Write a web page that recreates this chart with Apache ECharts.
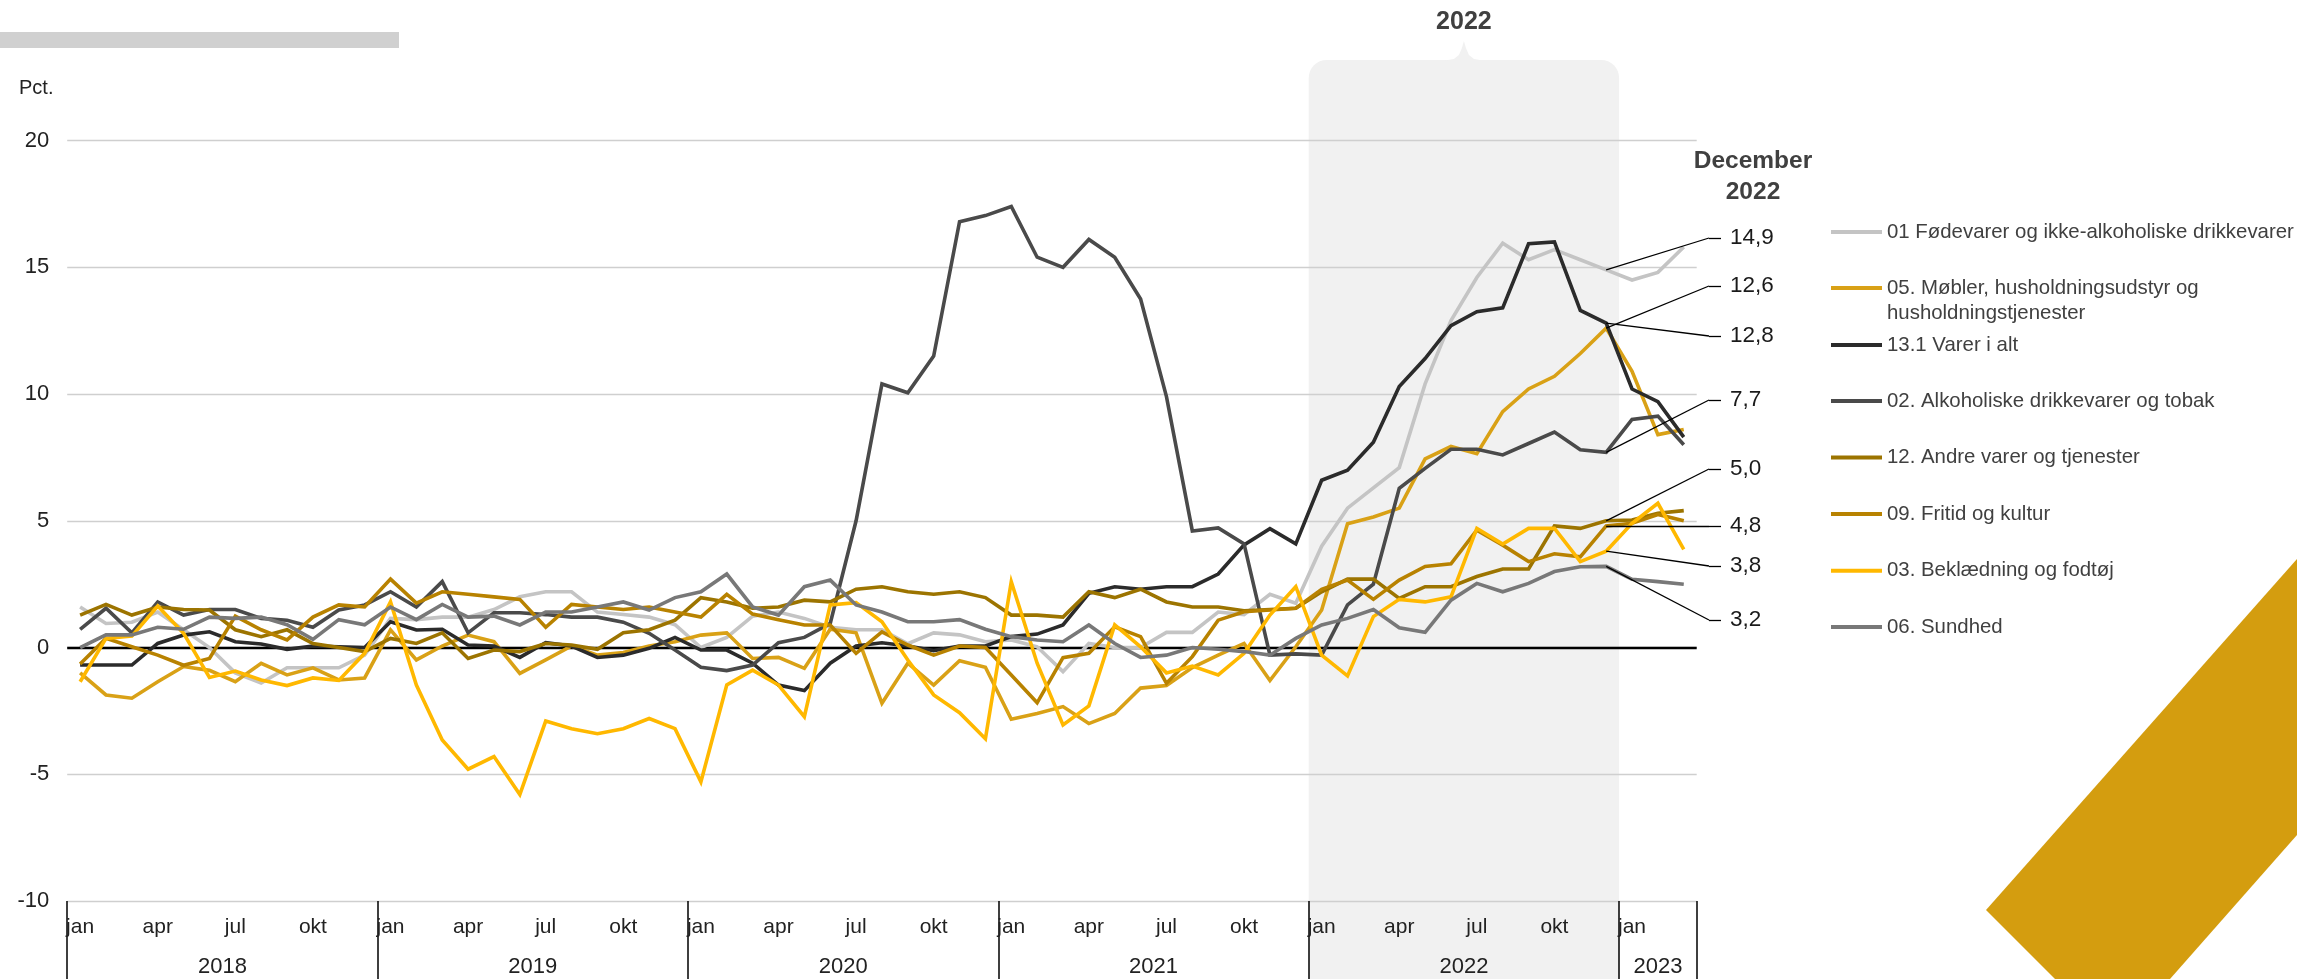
<!DOCTYPE html>
<html>
<head>
<meta charset="utf-8">
<script src="https://cdn.jsdelivr.net/npm/echarts@6/dist/echarts.min.js"></script>
<style>
  html, body { margin: 0; padding: 0; background: #ffffff; }
  #chart { width: 2297px; height: 979px; }
</style>
</head>
<body>
<div id="chart"></div>
<script>
// Årlig prisudvikling (pct.) for udvalgte forbrugsgrupper, jan 2018 - mar 2023
const monthNames = ['jan', 'feb', 'mar', 'apr', 'maj', 'jun', 'jul', 'aug', 'sep', 'okt', 'nov', 'dec'];
const years = ['2018', '2019', '2020', '2021', '2022', '2023'];
const monthsPerYear = [12, 12, 12, 12, 12, 3];
const yTicks = { min: -10, max: 20, step: 5 };

const seriesNames = [
  '01 Fødevarer og ikke-alkoholiske drikkevarer',
  '05. Møbler, husholdningsudstyr og husholdningstjenester',
  '13.1 Varer i alt',
  '02. Alkoholiske drikkevarer og tobak',
  '12. Andre varer og tjenester',
  '09. Fritid og kultur',
  '03. Beklædning og fodtøj',
  '06. Sundhed'
];

const foedevarer = [
  1.6, 0.95, 1.0, 1.4, 0.7, 0.0, -1.0, -1.4, -0.8, -0.8, -0.8, -0.3,
  1.15, 1.1, 1.2, 1.2, 1.5, 2.0, 2.2, 2.2, 1.4, 1.3, 1.2, 0.9,
  0.0, 0.4, 1.24, 1.4, 1.15, 0.8, 0.7, 0.7, 0.15, 0.58, 0.5, 0.23,
  0.3, 0.03, -0.95, 0.16, 0.0, 0.0, 0.6, 0.6, 1.4, 1.3, 2.1, 1.75,
  4.0, 5.5, 6.3, 7.1, 10.4, 12.9, 14.6, 15.95, 15.3, 15.7, 15.3, 14.9,
  14.5, 14.8, 15.8
];
const moebler = [
  -1.0, -1.87, -2.0, -1.35, -0.75, -0.9, -1.35, -0.62, -1.08, -0.8, -1.28, -1.2,
  0.7, -0.49, 0.06, 0.49, 0.23, -1.02, -0.49, 0.06, -0.3, -0.2, 0.06, 0.23,
  0.49, 0.58, -0.43, -0.39, -0.82, 0.72, 0.58, -2.2, -0.62, -1.48, -0.52, -0.78,
  -2.83, -2.6, -2.33, -3.0, -2.6, -1.6, -1.5, -0.79, -0.3, 0.16, -1.3, 0.03,
  1.48, 4.88, 5.15, 5.5, 7.44, 7.93, 7.65, 9.31, 10.2, 10.7, 11.6, 12.6,
  10.9, 8.4, 8.6
];
const varerIAlt = [
  -0.69, -0.69, -0.69, 0.16, 0.49, 0.62, 0.23, 0.14, -0.07, 0.06, 0.03, 0.0,
  1.02, 0.69, 0.72, 0.1, 0.06, -0.39, 0.19, 0.06, -0.39, -0.3, -0.03, 0.4,
  -0.1, -0.1, -0.62, -1.48, -1.7, -0.62, 0.06, 0.19, 0.06, -0.12, 0.06, 0.06,
  0.43, 0.53, 0.89, 2.14, 2.4, 2.3, 2.4, 2.4, 2.9, 4.05, 4.69, 4.09,
  6.6, 7.0, 8.1, 10.3, 11.4, 12.7, 13.25, 13.4, 15.93, 16.0, 13.3, 12.8,
  10.2, 9.7, 8.3
];
const alkohol = [
  0.72, 1.55, 0.58, 1.8, 1.28, 1.5, 1.5, 1.15, 1.08, 0.8, 1.48, 1.68,
  2.2, 1.6, 2.6, 0.58, 1.37, 1.37, 1.3, 1.2, 1.2, 1.0, 0.56, -0.1,
  -0.78, -0.91, -0.69, 0.19, 0.4, 0.95, 5.0, 10.4, 10.05, 11.5, 16.8, 17.04,
  17.4, 15.4, 15.0, 16.1, 15.4, 13.75, 9.9, 4.6, 4.72, 4.09, -0.3, -0.25,
  -0.3, 1.68, 2.5, 6.28, 7.07, 7.82, 7.82, 7.6, 8.05, 8.5, 7.8, 7.7,
  9.0, 9.13, 8.0
];
const andre = [
  1.28, 1.7, 1.28, 1.6, 1.5, 1.48, 0.7, 0.43, 0.7, 0.16, 0.0, -0.16,
  0.36, 0.16, 0.58, -0.43, -0.1, -0.16, 0.16, 0.1, -0.07, 0.58, 0.7, 1.08,
  1.97, 1.8, 1.55, 1.6, 1.87, 1.8, 2.3, 2.4, 2.2, 2.1, 2.2, 1.97,
  1.28, 1.28, 1.2, 2.2, 1.97, 2.3, 1.8, 1.6, 1.6, 1.45, 1.5, 1.55,
  2.2, 2.7, 2.7, 1.94, 2.4, 2.4, 2.8, 3.1, 3.1, 4.8, 4.7, 5.0,
  5.03, 5.3, 5.4
];
const fritid = [
  -0.65, 0.36, 0.03, -0.3, -0.7, -0.43, 1.24, 0.7, 0.3, 1.2, 1.68, 1.6,
  2.7, 1.75, 2.2, 2.1, 2.0, 1.9, 0.8, 1.7, 1.6, 1.5, 1.6, 1.4,
  1.2, 2.1, 1.32, 1.1, 0.89, 0.89, -0.23, 0.62, 0.1, -0.3, 0.06, 0.0,
  -1.08, -2.18, -0.4, -0.23, 0.82, 0.43, -1.41, -0.36, 1.08, 1.41, 1.48, 1.55,
  2.3, 2.66, 1.9, 2.66, 3.2, 3.3, 4.63, 4.04, 3.39, 3.7, 3.58, 4.8,
  4.9, 5.25, 5.0
];
const beklaedning = [
  -1.35, 0.36, 0.45, 1.64, 0.56, -1.18, -0.93, -1.28, -1.5, -1.2, -1.3, -0.23,
  1.8, -1.48, -3.65, -4.8, -4.3, -5.8, -2.9, -3.2, -3.4, -3.2, -2.8, -3.2,
  -5.3, -1.48, -0.89, -1.48, -2.73, 1.68, 1.77, 1.02, -0.49, -1.87, -2.57, -3.6,
  2.6, -0.62, -3.05, -2.3, 0.89, 0.03, -1.0, -0.73, -1.08, -0.23, 1.28, 2.4,
  -0.3, -1.12, 1.22, 1.9, 1.8, 2.0, 4.7, 4.08, 4.7, 4.7, 3.39, 3.8,
  4.9, 5.69, 3.87
];
const sundhed = [
  0.0, 0.5, 0.5, 0.8, 0.72, 1.2, 1.15, 1.2, 0.9, 0.32, 1.1, 0.9,
  1.6, 1.1, 1.7, 1.2, 1.24, 0.89, 1.4, 1.4, 1.6, 1.8, 1.48, 1.97,
  2.2, 2.9, 1.6, 1.28, 2.4, 2.66, 1.68, 1.4, 1.02, 1.02, 1.1, 0.72,
  0.43, 0.3, 0.23, 0.89, 0.16, -0.39, -0.3, 0.0, -0.07, -0.16, -0.3, 0.36,
  0.89, 1.15, 1.5, 0.78, 0.6, 1.87, 2.53, 2.2, 2.53, 3.0, 3.19, 3.2,
  2.69, 2.6, 2.5
];

const seriesValues = [foedevarer, moebler, varerIAlt, alkohol, andre, fritid, beklaedning, sundhed];
const seriesColors = ['#c4c4c4', '#d9a116', '#2b2b2b', '#4a4a4a', '#9c7400', '#b88200', '#ffb800', '#787878'];

// the month whose values are called out on the right
const calloutMonth = '2022-12';
const shadedYear = '2022';

const FONT = "'Liberation Sans', Arial, Helvetica, sans-serif";

// category keys "YYYY-MM"
const categories = [];
years.forEach((y, yi) => {
  for (let m = 0; m < monthsPerYear[yi]; m++) {
    categories.push(y + '-' + String(m + 1).padStart(2, '0'));
  }
});
const nMonths = categories.length;

// year boundaries and label centres on a month-count scale
const yearBounds = [0];
const yearCenters = [];
monthsPerYear.forEach((n, i) => {
  yearCenters.push(yearBounds[i] + n / 2);
  yearBounds.push(yearBounds[i] + n);
});

const fmt = v => v.toFixed(1).replace('.', ',');

// callout layout (pixel rows for the value labels on the right)
const calloutRows = [238, 286, 336, 400, 469, 526, 566, 620];
const calloutKinkX = 1709;
const calloutEndX = 1721;

// legend rows
const legendRows = [232, 288, 345, 401, 457.5, 514, 570.7, 627];

const chartDom = document.getElementById('chart');
const chart = echarts.init(chartDom, null, { renderer: 'canvas', width: 2297, height: 979 });

const calloutIndex = categories.indexOf(calloutMonth);

const series = seriesNames.map((name, i) => {
  const vals = seriesValues[i];
  const v = vals[calloutIndex];
  const rowY = calloutRows[i];
  return {
    name: name,
    type: 'line',
    data: vals,
    symbol: 'none',
    showSymbol: false,
    smooth: false,
    z: 3,
    lineStyle: { color: seriesColors[i], width: 3.6, cap: 'butt', join: 'miter' },
    itemStyle: { color: seriesColors[i] },
    emphasis: { disabled: true },
    markLine: {
      silent: true,
      symbol: 'none',
      animation: false,
      z: 6,
      label: { show: false },
      lineStyle: { color: '#000000', width: 1.3, type: 'solid' },
      emphasis: { disabled: true },
      data: [
        [
          { coord: [calloutIndex, v] },
          { x: calloutKinkX, y: rowY }
        ],
        [
          { x: calloutKinkX, y: rowY },
          {
            x: calloutEndX, y: rowY,
            label: {
              show: true, position: 'end', distance: 9, formatter: fmt(v),
              fontSize: 22.5, color: '#1a1a1a', fontFamily: FONT
            }
          }
        ]
      ]
    }
  };
});

// zero line
series.push({
  name: '__zero',
  type: 'line',
  data: [],
  markLine: {
    silent: true,
    symbol: 'none',
    animation: false,
    z: 1,
    label: { show: false },
    lineStyle: { color: '#000000', width: 2.4, type: 'solid' },
    data: [{ yAxis: 0 }]
  }
});

const legends = seriesNames.map((name, i) => {
  const twoLine = name.indexOf('husholdningstjenester') >= 0;
  return {
    data: [name],
    left: 1831,
    top: twoLine ? legendRows[i] - 37.5 : legendRows[i] - 12,
    orient: 'horizontal',
    padding: 0,
    itemWidth: 51,
    itemHeight: 4,
    icon: 'rect',
    selectedMode: false,
    // the wrapped entry gets an empty leading line so its first line sits on the icon
    formatter: n => twoLine ? ' \n' + n.replace(' og husholdningstjenester', ' og\nhusholdningstjenester') : n,
    textStyle: { fontSize: 20.4, color: '#404040', fontFamily: FONT, lineHeight: twoLine ? 25 : 24 }
  };
});

const option = {
  animation: false,
  backgroundColor: '#ffffff',
  grid: { left: 67.2, right: 600.3, top: 140.6, bottom: 78, containLabel: false },
  legend: legends,
  xAxis: [
    {
      type: 'category',
      data: categories,
      boundaryGap: true,
      axisLine: { show: false },
      axisTick: { show: false },
      splitLine: { show: false },
      axisLabel: {
        interval: (idx) => idx % 3 === 0,
        formatter: (v) => monthNames[parseInt(v.slice(5), 10) - 1],
        fontSize: 21, color: '#222222', fontFamily: FONT, margin: 16
      }
    },
    {
      type: 'value',
      min: 0,
      max: nMonths,
      position: 'bottom',
      axisLine: { show: false },
      splitLine: { show: false },
      axisTick: {
        show: true, inside: false, length: 78, customValues: yearBounds,
        lineStyle: { color: '#000000', width: 1.5 }
      },
      axisLabel: {
        customValues: yearCenters,
        formatter: (v) => {
          const k = yearCenters.findIndex(c => Math.abs(c - v) < 1e-6);
          return k >= 0 ? years[k] : '';
        },
        fontSize: 22, color: '#222222', fontFamily: FONT, margin: 55
      }
    }
  ],
  yAxis: {
    type: 'value',
    min: yTicks.min,
    max: yTicks.max,
    interval: yTicks.step,
    axisLine: { show: false },
    axisTick: { show: false },
    splitLine: { lineStyle: { color: '#cfcfcf', width: 1.3 } },
    axisLabel: { fontSize: 22, color: '#222222', fontFamily: FONT, margin: 18 }
  },
  series: series
};

chart.setOption(option);

// shaded band for the highlighted year, with a pointer towards its title
const yi = years.indexOf(shadedYear);
const x0 = chart.convertToPixel({ xAxisIndex: 1 }, yearBounds[yi]);
const x1 = chart.convertToPixel({ xAxisIndex: 1 }, yearBounds[yi + 1]);
const xm = (x0 + x1) / 2;
const bandTop = 60;

chart.setOption({
  graphic: [
    // top-left accent bar
    { type: 'rect', z: -20, silent: true, shape: { x: 0, y: 32, width: 399, height: 16 }, style: { fill: '#d0d0d0' } },
    // highlighted year band
    { type: 'rect', z: -20, silent: true, shape: { x: x0, y: bandTop, width: x1 - x0, height: 979 - bandTop, r: [18, 18, 0, 0] }, style: { fill: '#f1f1f1' } },
    {
      type: 'polygon', z: -20, silent: true,
      shape: {
        points: [
          [xm - 22, bandTop + 1], [xm - 10, bandTop - 1], [xm - 5, bandTop - 5], [xm - 2, bandTop - 12], [xm, bandTop - 19],
          [xm + 2, bandTop - 12], [xm + 5, bandTop - 5], [xm + 10, bandTop - 1], [xm + 22, bandTop + 1]
        ]
      },
      style: { fill: '#f1f1f1' }
    },
    {
      type: 'text', silent: true, x: xm, y: 22,
      style: { text: shadedYear, fill: '#404040', font: 'bold 25px ' + FONT, align: 'center', verticalAlign: 'middle' }
    },
    // unit label
    {
      type: 'text', silent: true, x: 19, y: 88,
      style: { text: 'Pct.', fill: '#222222', font: '20px ' + FONT, align: 'left', verticalAlign: 'middle' }
    },
    // callout heading
    {
      type: 'text', silent: true, x: 1753, y: 177,
      style: { text: 'December\n2022', fill: '#404040', font: 'bold 24.5px ' + FONT, lineHeight: 31, align: 'center', verticalAlign: 'middle' }
    },
    // decorative corner stripe
    {
      type: 'polygon', z: -30, silent: true,
      shape: { points: [[2297, 559], [1986, 910], [2055, 979], [2170, 979], [2297, 835]] },
      style: { fill: '#d49d0f' }
    }
  ]
});
</script>
</body>
</html>
